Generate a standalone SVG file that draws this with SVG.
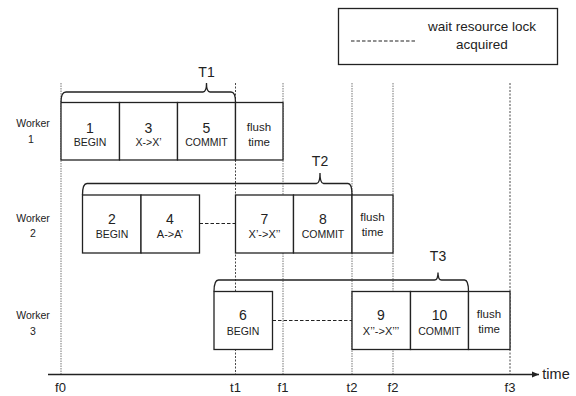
<svg xmlns="http://www.w3.org/2000/svg" width="576" height="396" viewBox="0 0 576 396">
<style>
text{font-family:"Liberation Sans","Open Sans",Arial,sans-serif;fill:#222;text-anchor:middle}
.box{fill:#fff;stroke:#222;stroke-width:1.3}
.num{font-size:14px}
.lbl{font-size:10.5px}
.fl{font-size:11.5px}
.wk{font-size:10.5px}
.tl{font-size:14px}
.ax{font-size:13px}
.vt{stroke:#333;stroke-width:0.9;stroke-dasharray:2,1.5;fill:none}
.vf{stroke:#777;stroke-width:1;stroke-dasharray:1.5,1;fill:none}
.wait{stroke:#222;stroke-width:1.2;stroke-dasharray:3.5,2;fill:none}
.brace{fill:none;stroke:#222;stroke-width:1.3}
</style>
<defs>
<marker id="arr" markerWidth="8" markerHeight="8" refX="7" refY="4" orient="auto" markerUnits="userSpaceOnUse">
<path d="M0,1 L7,4 L0,7 Z" fill="#222"/>
</marker>
</defs>
<g id="legend">
<rect x="338.5" y="8.5" width="219" height="56" fill="#fff" stroke="#222" stroke-width="1.3"/>
<line class="wait" x1="351" y1="41" x2="417" y2="41"/>
<text x="482" y="31" style="font-size:13.5px">wait resource lock</text>
<text x="482" y="49" style="font-size:13.5px">acquired</text>
</g>
<g id="guides">
<line class="vf" x1="61" y1="83" x2="61" y2="374"/>
<line class="vt" x1="235.5" y1="83" x2="235.5" y2="374"/>
<line class="vf" x1="283" y1="83" x2="283" y2="374"/>
<line class="vf" x1="352" y1="83" x2="352" y2="374"/>
<line class="vf" x1="393" y1="83" x2="393" y2="374"/>
<line class="vt" x1="510" y1="83" x2="510" y2="374"/>
</g>
<g id="connectors">
<line class="wait" x1="199.5" y1="223.5" x2="235.5" y2="223.5"/>
<line class="wait" x1="272.5" y1="320.5" x2="352" y2="320.5"/>
<line x1="48" y1="374.5" x2="539" y2="374.5" stroke="#222" stroke-width="1.4" marker-end="url(#arr)"/>
</g>
<g id="worker1">
<text class="wk" x="33" y="127">Worker</text>
<text class="wk" x="31" y="143">1</text>
<path class="brace" d="M61,102 Q61,92 66,92 H203 Q206.5,92 206.5,83 Q206.5,92 210,92 H231 Q235.5,92 235.5,102"/>
<text class="tl" x="206.5" y="77">T1</text>
<g id="n1"><rect class="box" x="61" y="102.5" width="58.5" height="57.5"/><text class="num" x="90" y="133">1</text><text class="lbl" x="90" y="146">BEGIN</text></g>
<g id="n3"><rect class="box" x="119.5" y="102.5" width="58" height="57.5"/><text class="num" x="148.5" y="133">3</text><text class="lbl" x="148.5" y="146">X-&gt;X’</text></g>
<g id="n5"><rect class="box" x="177.5" y="102.5" width="58" height="57.5"/><text class="num" x="206.5" y="133">5</text><text class="lbl" x="206.5" y="146">COMMIT</text></g>
<g id="flush1"><rect class="box" x="235.5" y="102.5" width="47.5" height="57.5"/><text class="fl" x="259" y="131">flush</text><text class="fl" x="259" y="146">time</text></g>
</g>
<g id="worker2">
<text class="wk" x="33" y="222">Worker</text>
<text class="wk" x="33" y="237">2</text>
<path class="brace" d="M82.5,195 Q82.5,183.5 87,183.5 H316.5 Q320,183.5 320,173 Q320,183.5 323.5,183.5 H348 Q352,183.5 352,195"/>
<text class="tl" x="320" y="166">T2</text>
<g id="n2"><rect class="box" x="82.5" y="195" width="58.5" height="58"/><text class="num" x="112" y="224">2</text><text class="lbl" x="112" y="238">BEGIN</text></g>
<g id="n4"><rect class="box" x="141" y="195" width="58.5" height="58"/><text class="num" x="170" y="224">4</text><text class="lbl" x="170" y="238" style="font-size:11px">A-&gt;A’</text></g>
<g id="n7"><rect class="box" x="235.5" y="195" width="58" height="58"/><text class="num" x="264.5" y="224">7</text><text class="lbl" x="264.5" y="238" style="font-size:11px">X’-&gt;X’’</text></g>
<g id="n8"><rect class="box" x="293.5" y="195" width="58.5" height="58"/><text class="num" x="323" y="224">8</text><text class="lbl" x="323" y="238">COMMIT</text></g>
<g id="flush2"><rect class="box" x="352" y="195" width="41" height="58"/><text class="fl" x="372.5" y="221">flush</text><text class="fl" x="372.5" y="236">time</text></g>
</g>
<g id="worker3">
<text class="wk" x="33" y="319">Worker</text>
<text class="wk" x="33" y="335">3</text>
<path class="brace" d="M214,291.5 Q214,280 218.5,280 H434.5 Q438,280 438,272.5 Q438,280 441.5,280 H464.5 Q468.5,280 468.5,291.5"/>
<text class="tl" x="438" y="261">T3</text>
<g id="n6"><rect class="box" x="214" y="291.5" width="58.5" height="58"/><text class="num" x="243" y="320">6</text><text class="lbl" x="243" y="335">BEGIN</text></g>
<g id="n9"><rect class="box" x="352" y="291.5" width="58.5" height="58"/><text class="num" x="381" y="320">9</text><text class="lbl" x="381" y="335" style="font-size:11px">X’’-&gt;X’’’</text></g>
<g id="n10"><rect class="box" x="410.5" y="291.5" width="58" height="58"/><text class="num" x="439.5" y="320">10</text><text class="lbl" x="439.5" y="335">COMMIT</text></g>
<g id="flush3"><rect class="box" x="468.5" y="291.5" width="41.5" height="58"/><text class="fl" x="489" y="318">flush</text><text class="fl" x="489" y="333">time</text></g>
</g>
<g id="axis-labels">
<text class="ax" x="60.5" y="392">f0</text>
<text class="ax" x="235.5" y="392">t1</text>
<text class="ax" x="283" y="392">f1</text>
<text class="ax" x="352" y="392">t2</text>
<text class="ax" x="393" y="392">f2</text>
<text class="ax" x="510" y="392">f3</text>
<text x="556" y="379" style="font-size:14.5px">time</text>
</g>
</svg>
